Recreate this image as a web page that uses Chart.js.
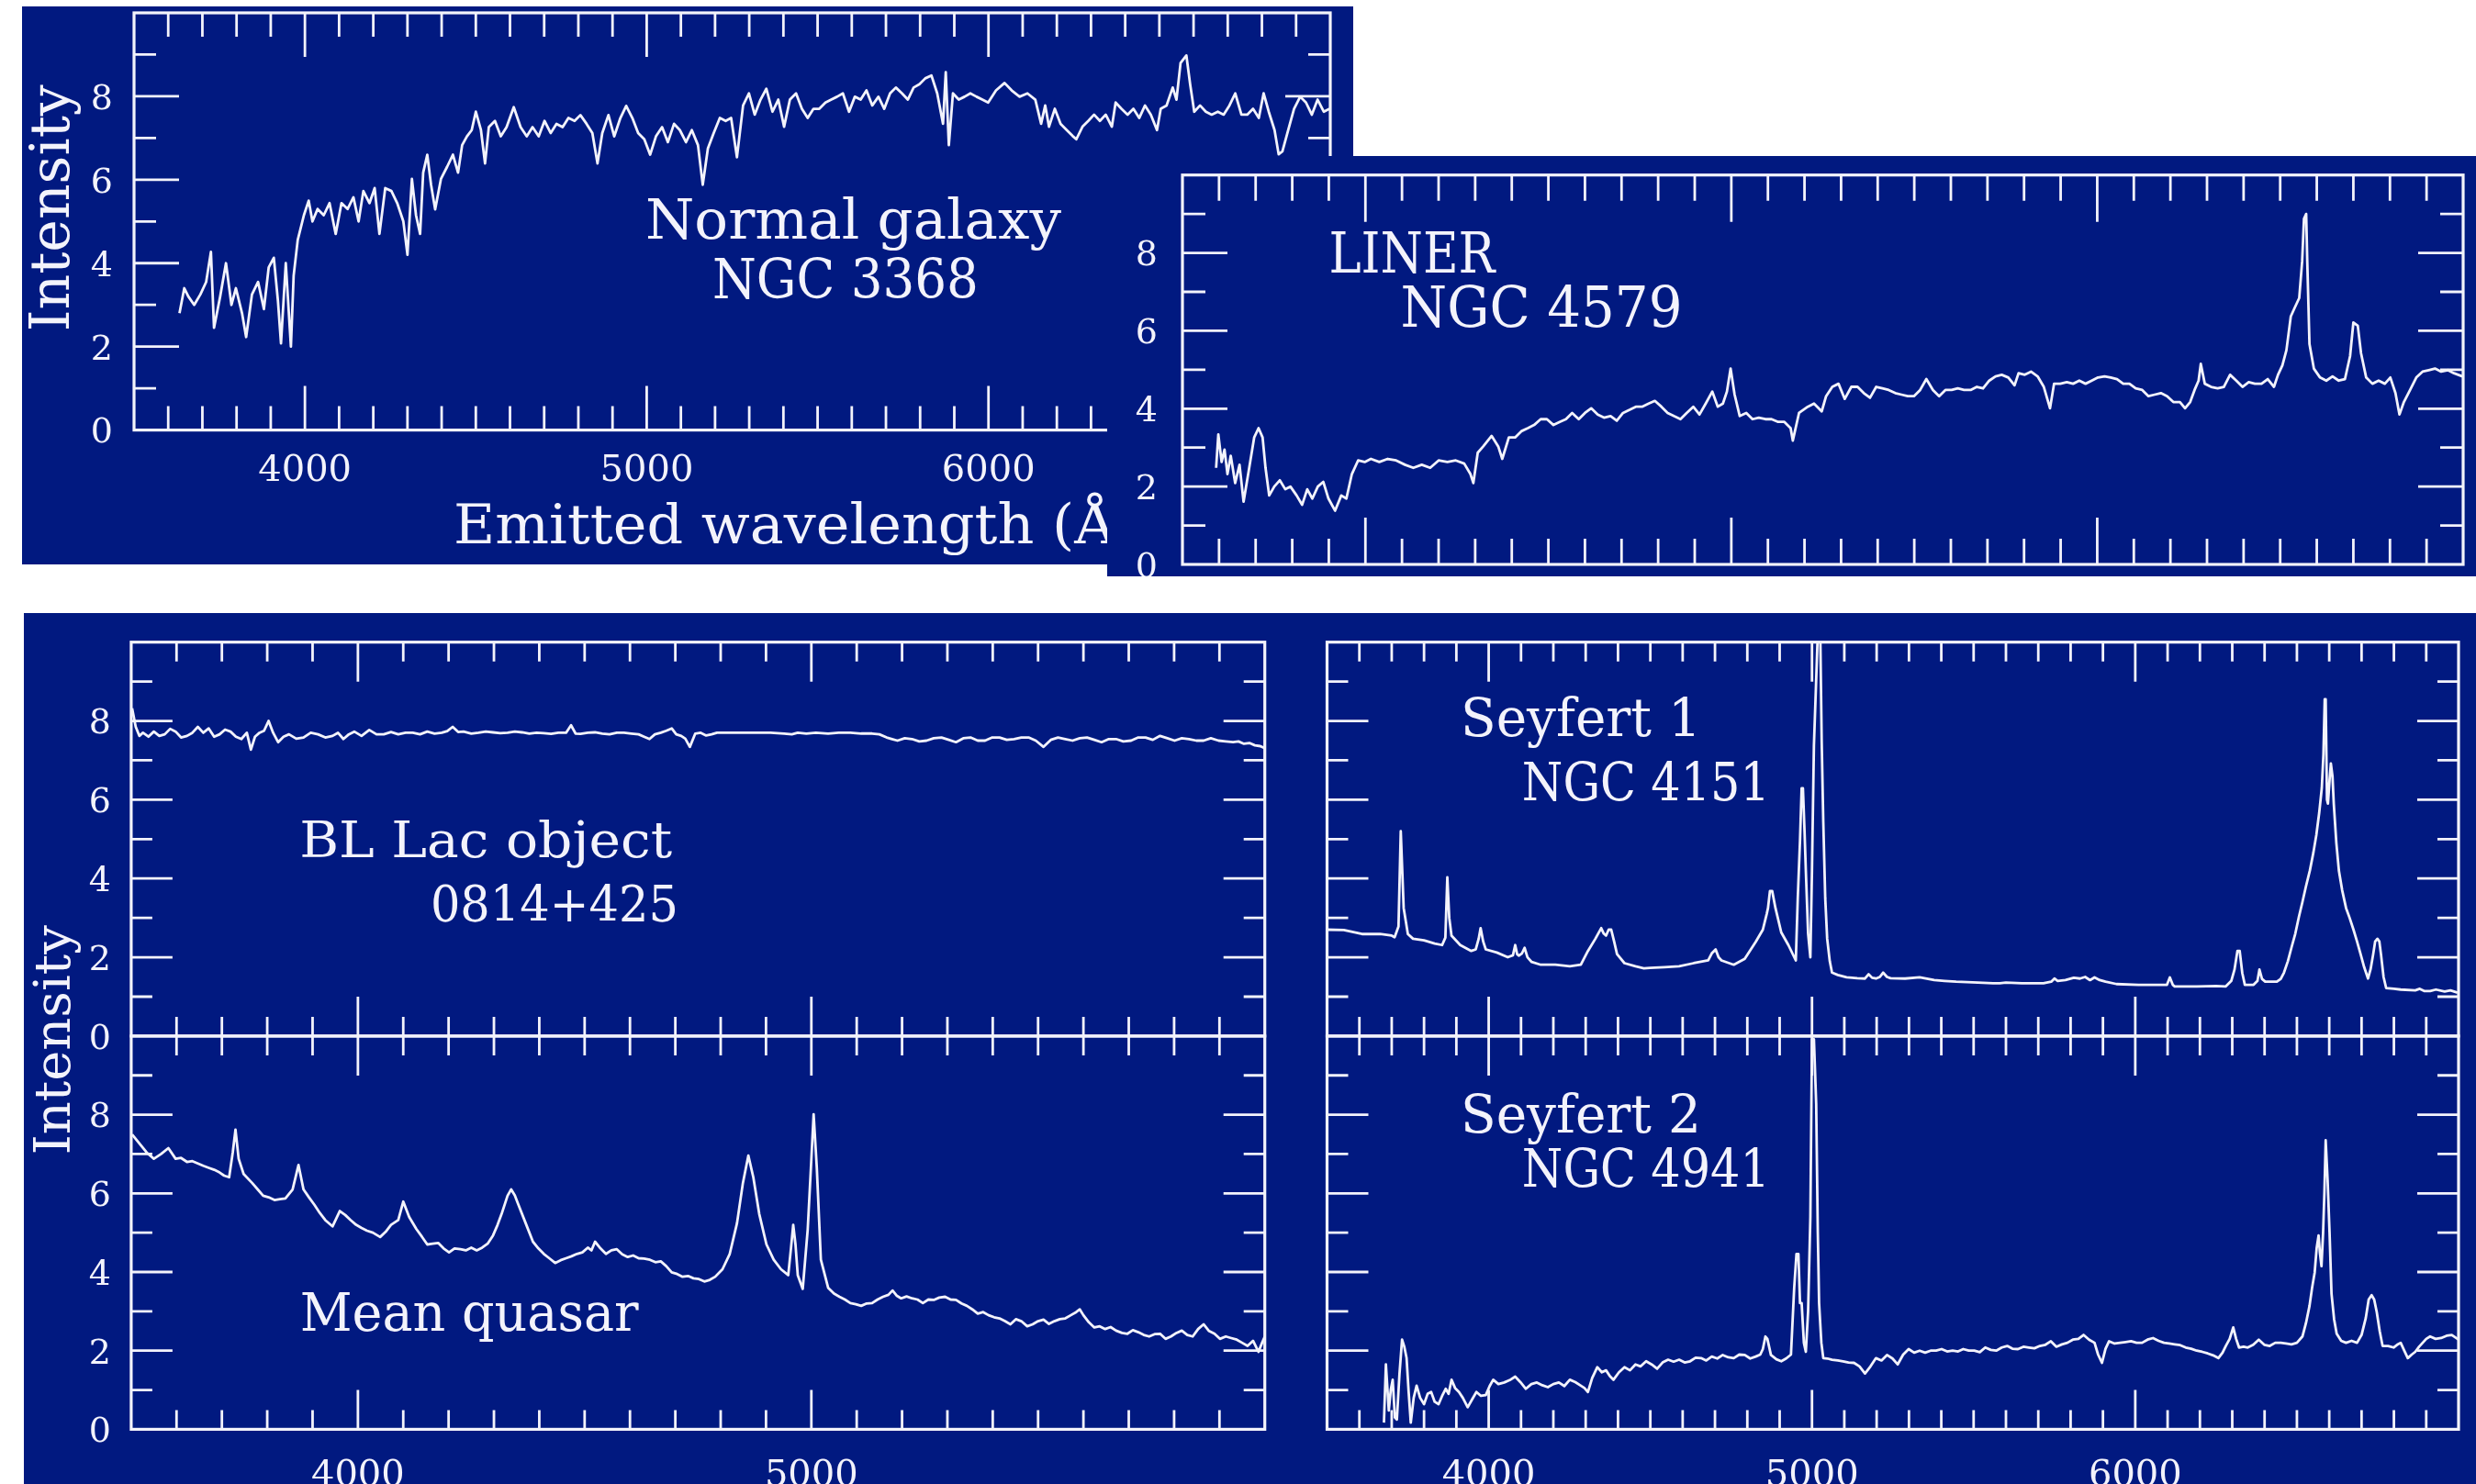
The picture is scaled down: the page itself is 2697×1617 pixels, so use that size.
<!DOCTYPE html>
<html>
<head>
<meta charset="utf-8">
<script src="https://cdn.jsdelivr.net/npm/chart.js@4.4.1/dist/chart.umd.min.js"></script>
<style>
  html, body { margin: 0; padding: 0; background: #ffffff; }
  body { width: 2697px; height: 1617px; position: relative; overflow: hidden; }
  .sheet { position: absolute; background: #011980; overflow: hidden; }
  .sheet canvas { position: absolute; left: 0; top: 0; }
</style>
</head>
<body>
<script>
// ---------------------------------------------------------------------------
// Spectra: emitted wavelength (Angstrom) and relative intensity
// ---------------------------------------------------------------------------
const galaxyWave = [
  3633,3647,3659,3676,3694,3711,3725,3734,3752,3769,
  3785,3798,3816,3828,3845,3863,3880,3894,3909,3921,
  3930,3944,3959,3967,3979,3997,4011,4022,4037,4055,
  4072,4090,4107,4125,4142,4157,4171,4189,4204,4218,
  4235,4253,4270,4288,4300,4313,4325,4337,4346,4358,
  4369,4381,4398,4416,4433,4448,4460,4474,4488,4500,
  4515,4527,4538,4556,4573,4590,4611,4631,4649,4666,
  4684,4701,4719,4736,4754,4771,4789,4806,4824,4841,
  4856,4870,4888,4905,4923,4940,4958,4975,4993,5010,
  5027,5045,5062,5080,5097,5115,5132,5150,5164,5179,
  5196,5214,5231,5247,5264,5282,5299,5316,5333,5350,
  5368,5385,5402,5419,5437,5454,5471,5488,5505,5523,
  5540,5557,5574,5592,5609,5626,5643,5660,5678,5695,
  5712,5729,5747,5764,5781,5798,5815,5833,5850,5867,
  5875,5884,5896,5913,5930,5947,5965,5982,5999,6022,
  6047,6068,6091,6114,6137,6154,6166,6177,6194,6211,
  6229,6246,6257,6275,6292,6309,6326,6343,6361,6372,
  6389,6407,6424,6441,6458,6475,6493,6504,6521,6539,
  6550,6562,6579,6590,6602,6619,6636,6653,6671,6688,
  6705,6722,6740,6757,6774,6791,6805,6820,6837,6849,
  6860,6877,6894,6912,6929,6946,6963,6981,6998
];
const galaxyFlux = [
  2.8,3.4,3.2,3.0,3.25,3.55,4.27,2.45,3.2,4.0,
  3.0,3.4,2.8,2.23,3.25,3.55,2.9,3.9,4.13,3.1,
  2.08,4.0,2.0,3.7,4.56,5.15,5.5,5.0,5.3,5.15,
  5.44,4.7,5.44,5.3,5.58,5.0,5.73,5.44,5.8,4.7,
  5.8,5.73,5.44,5.0,4.2,6.02,5.15,4.7,6.17,6.6,
  5.88,5.29,6.02,6.31,6.6,6.17,6.83,7.04,7.19,7.63,
  7.19,6.39,7.26,7.41,7.04,7.26,7.74,7.26,7.04,7.26,
  7.04,7.41,7.12,7.34,7.26,7.48,7.41,7.55,7.34,7.12,
  6.39,7.12,7.55,7.04,7.48,7.77,7.48,7.12,6.97,6.6,
  7.04,7.26,6.9,7.34,7.19,6.9,7.19,6.83,5.88,6.75,
  7.12,7.48,7.41,7.48,6.54,7.78,8.07,7.56,7.92,8.18,
  7.63,7.92,7.27,7.92,8.07,7.7,7.48,7.7,7.7,7.85,
  7.92,7.99,8.07,7.63,7.99,7.92,8.14,7.78,7.99,7.7,
  8.07,8.21,8.07,7.92,8.21,8.29,8.43,8.5,8.07,7.34,
  8.58,6.83,8.07,7.92,7.99,8.07,7.99,7.92,7.85,8.14,
  8.32,8.14,7.99,8.07,7.92,7.34,7.78,7.27,7.7,7.34,
  7.19,7.05,6.97,7.27,7.41,7.56,7.41,7.56,7.27,7.85,
  7.7,7.56,7.7,7.48,7.78,7.56,7.19,7.7,7.78,8.21,
  7.92,8.8,8.98,8.29,7.63,7.78,7.63,7.56,7.63,7.56,
  7.78,8.07,7.56,7.56,7.7,7.48,8.07,7.63,7.19,6.61,
  6.68,7.19,7.7,7.99,7.85,7.56,7.92,7.63,7.7
];

const linerWave = [
  3592,3598,3607,3615,3623,3632,3644,3656,3667,3681,
  3696,3708,3719,3727,3737,3751,3766,3781,3795,3812,
  3827,3841,3855,3870,3885,3899,3917,3934,3948,3963,
  3980,3998,4015,4038,4061,4084,4108,4131,4154,4177,
  4200,4224,4247,4270,4287,4295,4307,4322,4345,4363,
  4374,4392,4409,4426,4444,4461,4479,4496,4514,4531,
  4548,4565,4583,4600,4617,4635,4652,4670,4687,4704,
  4722,4739,4756,4774,4791,4809,4826,4843,4861,4878,
  4896,4913,4930,4948,4963,4977,4988,4998,5009,5023,
  5041,5058,5075,5093,5110,5128,5145,5162,5168,5185,
  5209,5226,5247,5259,5276,5293,5310,5328,5345,5362,
  5379,5396,5413,5430,5448,5465,5482,5499,5516,5533,
  5551,5568,5585,5602,5619,5636,5654,5671,5688,5705,
  5722,5739,5757,5774,5785,5802,5819,5837,5854,5871,
  5882,5899,5917,5934,5951,5968,5985,6002,6020,6037,
  6054,6071,6088,6105,6123,6140,6157,6174,6191,6208,
  6226,6240,6254,6266,6277,6283,6294,6311,6329,6346,
  6363,6380,6397,6414,6431,6449,6466,6483,6494,6506,
  6517,6529,6540,6552,6560,6565,6571,6574,6580,6592,
  6609,6626,6643,6660,6677,6691,6700,6712,6721,6735,
  6752,6769,6786,6801,6815,6826,6838,6855,6872,6889,
  6906,6923,6940,6958,6975,6998
];
const linerFlux = [
  2.48,3.34,2.63,2.95,2.32,2.79,2.09,2.56,1.61,2.4,
  3.26,3.5,3.26,2.48,1.77,2.0,2.16,1.93,2.0,1.77,
  1.53,1.93,1.69,2.0,2.12,1.69,1.38,1.77,1.69,2.32,
  2.67,2.63,2.71,2.63,2.71,2.67,2.56,2.48,2.56,2.48,
  2.67,2.63,2.67,2.59,2.32,2.09,2.87,3.03,3.3,3.03,
  2.71,3.26,3.26,3.42,3.5,3.58,3.73,3.73,3.58,3.66,
  3.73,3.89,3.73,3.89,4.01,3.85,3.77,3.81,3.69,3.89,
  3.97,4.05,4.05,4.13,4.2,4.05,3.89,3.81,3.73,3.89,
  4.05,3.85,4.13,4.44,4.05,4.13,4.44,5.03,4.36,3.81,
  3.89,3.73,3.77,3.73,3.73,3.66,3.66,3.5,3.18,3.89,
  4.05,4.13,3.93,4.32,4.56,4.64,4.25,4.56,4.56,4.4,
  4.28,4.56,4.52,4.48,4.4,4.36,4.32,4.32,4.48,4.76,
  4.48,4.32,4.48,4.48,4.52,4.48,4.48,4.56,4.52,4.72,
  4.83,4.87,4.8,4.6,4.91,4.87,4.95,4.83,4.56,4.01,
  4.64,4.64,4.68,4.64,4.72,4.64,4.72,4.8,4.83,4.8,
  4.76,4.64,4.64,4.52,4.48,4.32,4.36,4.4,4.32,4.17,
  4.17,4.01,4.17,4.48,4.72,5.15,4.64,4.56,4.52,4.56,
  4.87,4.72,4.56,4.68,4.64,4.64,4.76,4.56,4.87,5.11,
  5.5,6.37,6.6,6.84,7.78,8.88,9.0,7.78,5.66,5.03,
  4.8,4.72,4.83,4.72,4.76,5.35,6.21,6.13,5.42,4.8,
  4.64,4.72,4.64,4.8,4.4,3.85,4.17,4.48,4.8,4.95,
  4.99,5.03,4.95,4.99,4.91,4.83
];

const blLacWave = [
  3502,3510,3518,3526,3538,3550,3562,3574,3586,3598,
  3610,3623,3635,3647,3659,3671,3683,3695,3707,3719,
  3731,3743,3755,3764,3773,3783,3793,3803,3813,3824,
  3836,3848,3864,3880,3896,3912,3928,3944,3956,3968,
  3980,3992,4008,4025,4041,4057,4073,4089,4105,4121,
  4137,4153,4169,4185,4197,4209,4221,4233,4250,4266,
  4282,4298,4314,4330,4346,4362,4378,4394,4410,4426,
  4442,4459,4470,4480,4491,4507,4523,4539,4555,4571,
  4587,4603,4619,4631,4643,4655,4668,4680,4692,4702,
  4713,4722,4732,4744,4756,4768,4780,4792,4804,4820,
  4850,4880,4910,4940,4957,4970,4989,5010,5037,5060,
  5086,5110,5134,5150,5166,5178,5190,5206,5222,5238,
  5254,5270,5287,5303,5319,5335,5351,5367,5383,5399,
  5415,5431,5447,5463,5479,5495,5512,5528,5544,5560,
  5576,5592,5608,5624,5640,5656,5672,5688,5705,5721,
  5737,5753,5769,5785,5801,5817,5833,5849,5865,5881,
  5898,5914,5930,5942,5954,5966,5978,5990,6000
];
const blLacFlux = [
  8.32,7.85,7.62,7.7,7.6,7.73,7.62,7.66,7.8,7.73,
  7.58,7.62,7.7,7.85,7.7,7.81,7.6,7.66,7.78,7.73,
  7.6,7.54,7.7,7.27,7.6,7.7,7.75,8.0,7.7,7.46,
  7.6,7.66,7.55,7.58,7.7,7.66,7.58,7.62,7.7,7.54,
  7.66,7.73,7.62,7.77,7.66,7.66,7.72,7.66,7.7,7.7,
  7.66,7.73,7.68,7.7,7.74,7.85,7.72,7.73,7.68,7.7,
  7.73,7.71,7.69,7.7,7.73,7.71,7.68,7.7,7.69,7.67,
  7.7,7.7,7.89,7.68,7.67,7.7,7.71,7.68,7.66,7.7,
  7.7,7.68,7.66,7.6,7.54,7.66,7.7,7.75,7.81,7.66,
  7.62,7.55,7.34,7.68,7.7,7.63,7.66,7.7,7.7,7.7,
  7.7,7.7,7.7,7.68,7.66,7.7,7.68,7.7,7.68,7.7,
  7.7,7.68,7.68,7.66,7.58,7.54,7.5,7.56,7.54,7.48,
  7.5,7.56,7.58,7.52,7.46,7.56,7.58,7.5,7.5,7.58,
  7.58,7.52,7.54,7.58,7.58,7.5,7.34,7.52,7.58,7.54,
  7.5,7.56,7.58,7.52,7.46,7.54,7.54,7.48,7.5,7.58,
  7.58,7.52,7.62,7.56,7.5,7.56,7.54,7.5,7.5,7.56,
  7.5,7.48,7.46,7.48,7.42,7.44,7.38,7.36,7.31
];

const quasarWave = [
  3502,3518,3534,3550,3566,3582,3598,3610,3623,3635,
  3647,3659,3671,3683,3695,3705,3716,3724,3730,3737,
  3748,3767,3779,3791,3803,3816,3828,3840,3856,3869,
  3880,3892,3904,3916,3928,3944,3960,3972,3984,3996,
  4008,4020,4033,4049,4061,4073,4089,4100,4113,4129,
  4141,4153,4165,4177,4189,4201,4213,4226,4238,4250,
  4262,4274,4286,4298,4308,4317,4330,4338,4346,4354,
  4370,4386,4398,4410,4422,4435,4447,4459,4471,4483,
  4495,4507,4515,4523,4535,4547,4559,4571,4583,4595,
  4607,4619,4631,4644,4656,4668,4680,4692,4704,4716,
  4728,4740,4752,4764,4776,4788,4804,4820,4836,4849,
  4861,4872,4885,4901,4917,4933,4949,4955,4960,4965,
  4970,4981,4992,4999,5005,5012,5021,5037,5050,5062,
  5074,5086,5098,5110,5122,5134,5146,5158,5170,5179,
  5188,5198,5210,5222,5234,5246,5258,5270,5282,5295,
  5307,5319,5331,5343,5355,5367,5379,5391,5403,5415,
  5427,5439,5451,5463,5476,5488,5500,5512,5524,5536,
  5548,5560,5572,5584,5592,5600,5612,5624,5636,5648,
  5660,5672,5685,5697,5709,5721,5733,5745,5757,5769,
  5781,5793,5805,5817,5829,5841,5853,5865,5877,5889,
  5901,5914,5926,5938,5950,5962,5974,5986,5994,6000
];
const quasarFlux = [
  7.5,7.27,7.04,6.88,7.0,7.15,6.88,6.9,6.8,6.82,
  6.76,6.7,6.65,6.6,6.53,6.45,6.41,7.04,7.62,6.88,
  6.49,6.26,6.1,5.94,5.9,5.83,5.85,5.87,6.1,6.72,
  6.1,5.9,5.71,5.5,5.32,5.16,5.55,5.45,5.32,5.2,
  5.12,5.05,5.0,4.89,5.02,5.2,5.32,5.79,5.4,5.09,
  4.9,4.7,4.72,4.74,4.6,4.5,4.6,4.58,4.55,4.62,
  4.55,4.62,4.72,4.93,5.2,5.48,5.94,6.1,5.95,5.71,
  5.24,4.77,4.6,4.46,4.35,4.23,4.3,4.35,4.4,4.46,
  4.5,4.62,4.55,4.77,4.6,4.46,4.55,4.58,4.45,4.38,
  4.42,4.35,4.34,4.31,4.25,4.27,4.15,3.99,3.95,3.88,
  3.9,3.84,3.82,3.76,3.8,3.88,4.07,4.46,5.24,6.26,
  6.96,6.41,5.48,4.7,4.31,4.07,3.92,4.6,5.2,4.7,
  3.92,3.57,5.09,6.65,8.01,6.65,4.31,3.6,3.45,3.37,
  3.3,3.21,3.18,3.14,3.2,3.21,3.3,3.37,3.42,3.53,
  3.4,3.33,3.38,3.33,3.3,3.21,3.3,3.29,3.35,3.37,
  3.3,3.29,3.2,3.14,3.05,2.94,2.98,2.9,2.85,2.82,
  2.75,2.67,2.8,2.75,2.62,2.67,2.75,2.79,2.68,2.75,
  2.8,2.82,2.9,2.98,3.05,2.9,2.72,2.59,2.62,2.55,
  2.6,2.51,2.45,2.43,2.52,2.47,2.4,2.36,2.42,2.43,
  2.3,2.36,2.45,2.51,2.4,2.36,2.55,2.67,2.5,2.43,
  2.3,2.36,2.32,2.28,2.2,2.12,2.25,1.97,2.2,2.36
];

const seyfert1Wave = [
  3500,3552,3608,3664,3700,3709,3721,3728,3737,3750,
  3766,3800,3833,3856,3866,3872,3878,3885,3912,3946,
  3960,3969,3975,3983,3991,4025,4059,4075,4082,4088,
  4093,4103,4111,4120,4133,4161,4206,4251,4285,4307,
  4330,4348,4356,4363,4371,4379,4388,4397,4420,4454,
  4480,4499,4544,4589,4634,4679,4690,4702,4711,4720,
  4758,4792,4826,4848,4860,4864,4870,4877,4887,4905,
  4927,4950,4956,4963,4968,4972,4977,4981,4988,4995,
  5000,5006,5017,5026,5030,5035,5041,5047,5055,5062,
  5080,5107,5140,5164,5175,5186,5198,5210,5220,5232,
  5243,5288,5333,5378,5410,5446,5513,5560,5581,5600,
  5649,5716,5740,5750,5760,5784,5810,5829,5845,5860,
  5874,5890,5908,5942,6010,6077,6098,6107,6116,6122,
  6190,6250,6280,6297,6307,6316,6323,6331,6339,6366,
  6378,6384,6392,6402,6438,6450,6460,6472,6483,6495,
  6506,6517,6528,6540,6551,6560,6569,6577,6582,6586,
  6589,6593,6596,6601,6605,6610,6614,6622,6630,6640,
  6652,6663,6675,6686,6697,6708,6720,6728,6736,6742,
  6749,6755,6760,6768,6776,6800,6821,6866,6880,6895,
  6912,6930,6957,6975,6997
];
const seyfert1Flux = [
  2.7,2.69,2.59,2.59,2.55,2.51,2.78,5.2,3.25,2.59,
  2.47,2.43,2.35,2.31,2.5,4.03,3.0,2.55,2.31,2.16,
  2.2,2.47,2.74,2.4,2.2,2.12,2.0,2.05,2.31,2.08,
  2.04,2.1,2.24,2.0,1.88,1.81,1.81,1.77,1.81,2.16,
  2.47,2.74,2.6,2.55,2.7,2.7,2.4,2.08,1.85,1.77,
  1.72,1.73,1.75,1.77,1.85,1.92,2.1,2.2,2.0,1.92,
  1.81,1.96,2.39,2.7,3.1,3.25,3.68,3.68,3.25,2.63,
  2.31,1.92,3.5,4.97,6.29,6.29,5.2,4.19,2.6,2.0,
  4.2,7.38,10,10,7.5,5.43,3.5,2.47,1.9,1.61,
  1.55,1.49,1.47,1.46,1.57,1.48,1.46,1.5,1.61,1.5,
  1.47,1.46,1.49,1.42,1.4,1.38,1.36,1.34,1.34,1.36,
  1.34,1.34,1.38,1.46,1.4,1.42,1.48,1.46,1.5,1.42,
  1.49,1.42,1.38,1.32,1.3,1.3,1.3,1.49,1.3,1.26,
  1.26,1.27,1.26,1.4,1.69,2.16,2.16,1.6,1.3,1.3,
  1.4,1.69,1.45,1.38,1.38,1.45,1.61,1.9,2.24,2.6,
  3.02,3.4,3.8,4.2,4.66,5.1,5.67,6.3,7.15,8.55,
  8.55,6.0,5.9,6.5,6.92,6.6,5.9,4.9,4.19,3.7,
  3.25,3.0,2.7,2.4,2.08,1.75,1.46,1.7,2.08,2.4,
  2.47,2.4,2.08,1.5,1.22,1.2,1.18,1.16,1.2,1.14,
  1.14,1.18,1.13,1.16,1.1
];

const seyfert2Wave = [
  3676,3682,3691,3697,3703,3710,3716,3724,3732,3739,
  3746,3752,3759,3768,3777,3788,3800,3811,3822,3833,
  3845,3856,3867,3876,3885,3896,3908,3920,3935,3948,
  3962,3976,3991,4003,4014,4030,4048,4065,4082,4098,
  4115,4132,4149,4166,4183,4200,4217,4234,4251,4268,
  4285,4296,4307,4320,4336,4350,4363,4375,4386,4403,
  4420,4437,4454,4470,4487,4504,4521,4538,4555,4572,
  4589,4606,4623,4640,4657,4673,4690,4707,4724,4741,
  4758,4775,4792,4809,4826,4840,4848,4856,4862,4873,
  4890,4905,4920,4935,4945,4952,4958,4963,4968,4975,
  4981,4988,4995,5000,5006,5013,5018,5022,5029,5035,
  5048,5062,5080,5096,5113,5130,5147,5164,5181,5198,
  5215,5232,5249,5265,5282,5299,5316,5333,5350,5367,
  5384,5401,5418,5435,5452,5468,5485,5502,5519,5536,
  5553,5570,5587,5604,5620,5637,5654,5671,5688,5705,
  5722,5739,5756,5773,5790,5807,5824,5840,5857,5874,
  5885,5897,5908,5919,5936,5953,5970,5987,6004,6021,
  6038,6055,6072,6089,6105,6122,6139,6156,6173,6190,
  6207,6224,6241,6257,6270,6280,6292,6303,6312,6321,
  6335,6348,6365,6382,6399,6416,6433,6450,6466,6483,
  6500,6517,6528,6539,6547,6555,6561,6567,6571,6576,
  6581,6585,6589,6591,6595,6601,6607,6615,6623,6637,
  6652,6669,6686,6700,6713,6722,6731,6739,6747,6756,
  6765,6782,6799,6810,6821,6832,6843,6855,6866,6878,
  6889,6900,6912,6929,6946,6963,6979,7000
];
const seyfert2Flux = [
  0.17,1.65,0.48,1.0,1.26,0.3,0.25,1.4,2.28,2.1,
  1.81,1.0,0.17,0.8,1.11,0.8,0.64,0.9,0.95,0.7,
  0.64,0.85,1.03,0.9,1.26,1.05,0.95,0.8,0.56,0.75,
  0.95,0.85,0.87,1.1,1.26,1.15,1.19,1.25,1.34,1.2,
  1.03,1.15,1.19,1.12,1.07,1.15,1.19,1.1,1.26,1.2,
  1.11,1.05,0.95,1.3,1.58,1.45,1.5,1.35,1.26,1.45,
  1.58,1.5,1.65,1.6,1.73,1.65,1.54,1.7,1.77,1.72,
  1.77,1.7,1.73,1.82,1.81,1.75,1.85,1.8,1.89,1.83,
  1.81,1.9,1.89,1.8,1.85,1.9,2.04,2.36,2.3,1.89,
  1.78,1.73,1.8,1.9,3.6,4.46,4.46,3.21,3.21,2.2,
  1.97,3.0,5.4,9.92,9.92,8.28,5.0,3.21,2.2,1.81,
  1.8,1.77,1.75,1.73,1.7,1.69,1.6,1.42,1.6,1.81,
  1.75,1.89,1.8,1.65,1.9,2.04,1.95,2.0,1.95,2.0,
  2.0,2.04,1.98,2.0,1.98,2.04,2.0,2.0,1.96,2.08,
  2.02,2.0,2.08,2.12,2.05,2.04,2.1,2.08,2.06,2.12,
  2.15,2.24,2.1,2.16,2.2,2.28,2.3,2.4,2.28,2.2,
  1.9,1.69,2.05,2.24,2.18,2.2,2.22,2.24,2.2,2.2,
  2.28,2.32,2.25,2.2,2.18,2.16,2.14,2.08,2.05,2.0,
  1.97,1.93,1.88,1.81,1.95,2.12,2.3,2.59,2.3,2.08,
  2.1,2.08,2.15,2.28,2.15,2.12,2.2,2.2,2.18,2.16,
  2.2,2.36,2.7,3.14,3.6,3.99,4.6,4.93,4.5,4.15,
  5.0,6.02,7.35,7.35,6.33,5.0,3.45,2.8,2.43,2.25,
  2.2,2.25,2.2,2.4,2.83,3.3,3.41,3.3,2.98,2.5,
  2.12,2.12,2.08,2.15,2.2,2.0,1.81,1.9,1.97,2.1,
  2.2,2.3,2.36,2.3,2.32,2.38,2.4,2.28
];

// Axis ranges and tick label values
const waveRangeLong  = [3500, 7000];
const waveRangeShort = [3500, 6000];
const intensityRange = [0, 10];
const intensityTickLabels = [0, 2, 4, 6, 8];
const waveTickLabelsLong  = [4000, 5000, 6000];
const waveTickLabelsShort = [4000, 5000];
const waveMinorStep = 100, waveMajorStep = 1000;
const intensityMinorStep = 1, intensityMajorStep = 2;

// ---------------------------------------------------------------------------
// Styling and layout (page pixels)
// ---------------------------------------------------------------------------
const INK = '#f3f3fb';
const SERIF = '"DejaVu Serif", "Liberation Serif", serif';
const CAP = 0.729;           // cap height of DejaVu Serif, in em
const FRAME_WIDTH = 3.2;
const TICK_WIDTH = 2.8;
const LINE_WIDTH = 2.8;

const sheets = {
  top:    { x: 24,   y: 7,   w: 1450, h: 608, z: 1 },
  liner:  { x: 1206, y: 170, w: 1491, h: 458, z: 2 },
  bottom: { x: 26,   y: 668, w: 2671, h: 949, z: 1 }
};

const tickLong  = { xMinor: 26, xMajor: 48, yMinor: 24, yMajor: 49 };
const tickLiner = { xMinor: 28, xMajor: 51, yMinor: 25, yMajor: 49 };
const tickSmall = { xMinor: 21, xMajor: 43, yMinor: 23, yMajor: 45 };

const panels = [
  {
    canvas: 'galaxy', sheet: 'top', frame: { l: 146, t: 14, r: 1449, b: 468.6 },
    wave: galaxyWave, flux: galaxyFlux, xr: waveRangeLong, tick: tickLong,
    yLabels: intensityTickLabels, yLabelGap: 23, yLabelSize: 38,
    xLabels: waveTickLabelsLong, xLabelGap: 26, xLabelSize: 40,
    notes: [
      { text: 'Normal galaxy', x: 4996, y: 4.59, size: 60, width: 453 },
      { text: 'NGC 3368', x: 5192, y: 3.16, size: 60, width: 290 },
      { text: 'Emitted wavelength (Å)', x: 4435, y: -2.72, size: 60, width: 745 },
      { text: 'Intensity', x: 3309, y: 5.32, size: 59, width: 269, rotate: true }
    ]
  },
  {
    canvas: 'liner', sheet: 'liner', frame: { l: 1288, t: 190.7, r: 2683, b: 615 },
    wave: linerWave, flux: linerFlux, xr: waveRangeLong, tick: tickLiner,
    yLabels: intensityTickLabels, yLabelGap: 27, yLabelSize: 38,
    xLabels: [], xLabelGap: 0, xLabelSize: 40,
    notes: [
      { text: 'LINER', x: 3900, y: 7.49, size: 62, width: 181 },
      { text: 'NGC 4579', x: 4096, y: 6.11, size: 62, width: 307 }
    ]
  },
  {
    canvas: 'bllac', sheet: 'bottom', frame: { l: 142.9, t: 699.7, r: 1377.7, b: 1128.9 },
    wave: blLacWave, flux: blLacFlux, xr: waveRangeShort, tick: tickSmall,
    yLabels: intensityTickLabels, yLabelGap: 22, yLabelSize: 38,
    xLabels: [], xLabelGap: 0, xLabelSize: 40,
    notes: [
      { text: 'BL Lac object', x: 3871, y: 4.54, size: 55, width: 406 },
      { text: '0814+425', x: 4160, y: 2.9, size: 55, width: 270 },
      { text: 'Intensity', x: 3365, y: -0.1, size: 55, width: 250, rotate: true }
    ]
  },
  {
    canvas: 'quasar', sheet: 'bottom', frame: { l: 142.9, t: 1128.9, r: 1377.7, b: 1557.4 },
    wave: quasarWave, flux: quasarFlux, xr: waveRangeShort, tick: tickSmall,
    yLabels: intensityTickLabels, yLabelGap: 22, yLabelSize: 38,
    xLabels: waveTickLabelsShort, xLabelGap: 32, xLabelSize: 40,
    notes: [
      { text: 'Mean quasar', x: 3872, y: 2.51, size: 58, width: 369 }
    ]
  },
  {
    canvas: 'seyfert1', sheet: 'bottom', frame: { l: 1445.5, t: 699.7, r: 2678, b: 1128.9 },
    wave: seyfert1Wave, flux: seyfert1Flux, xr: waveRangeLong, tick: tickSmall,
    yLabels: [], yLabelGap: 0, yLabelSize: 38,
    xLabels: [], xLabelGap: 0, xLabelSize: 40,
    notes: [
      { text: 'Seyfert 1', x: 3913, y: 7.62, size: 57, width: 262 },
      { text: 'NGC 4151', x: 4103, y: 5.99, size: 58, width: 270 }
    ]
  },
  {
    canvas: 'seyfert2', sheet: 'bottom', frame: { l: 1445.5, t: 1128.9, r: 2678, b: 1557.4 },
    wave: seyfert2Wave, flux: seyfert2Flux, xr: waveRangeLong, tick: tickSmall,
    yLabels: [], yLabelGap: 0, yLabelSize: 38,
    xLabels: waveTickLabelsLong, xLabelGap: 32, xLabelSize: 40,
    notes: [
      { text: 'Seyfert 2', x: 3913, y: 7.54, size: 57, width: 262 },
      { text: 'NGC 4941', x: 4103, y: 6.18, size: 58, width: 270 }
    ]
  }
];

// ---------------------------------------------------------------------------
// Drawing helpers
// ---------------------------------------------------------------------------
function drawNote(ctx, note, px, py) {
  ctx.save();
  ctx.font = note.size + 'px ' + SERIF;
  const natural = ctx.measureText(note.text).width;
  const stretch = note.width ? note.width / natural : 1;
  ctx.translate(px, py);
  if (note.rotate) {
    ctx.rotate(-Math.PI / 2);
    ctx.textAlign = 'center';
  } else {
    ctx.textAlign = 'left';
  }
  ctx.scale(stretch, 1);
  ctx.textBaseline = 'alphabetic';
  ctx.fillText(note.text, 0, 0);
  ctx.restore();
}

// Frame, mirrored inward ticks, tick labels and captions of one panel
function frameDecor(spec) {
  return {
    id: 'frameDecor',
    afterDatasetsDraw(chart) {
      const ctx = chart.ctx;
      const a = chart.chartArea;
      const sx = chart.scales.x, sy = chart.scales.y;
      ctx.save();
      ctx.strokeStyle = INK;
      ctx.fillStyle = INK;
      ctx.lineCap = 'butt';

      ctx.lineWidth = TICK_WIDTH;
      ctx.beginPath();
      for (let w = sx.min + waveMinorStep; w < sx.max; w += waveMinorStep) {
        const px = sx.getPixelForValue(w);
        const len = (w % waveMajorStep === 0) ? spec.tick.xMajor : spec.tick.xMinor;
        ctx.moveTo(px, a.bottom); ctx.lineTo(px, a.bottom - len);
        ctx.moveTo(px, a.top);    ctx.lineTo(px, a.top + len);
      }
      for (let v = sy.min + intensityMinorStep; v < sy.max; v += intensityMinorStep) {
        const py = sy.getPixelForValue(v);
        const len = (v % intensityMajorStep === 0) ? spec.tick.yMajor : spec.tick.yMinor;
        ctx.moveTo(a.left, py);  ctx.lineTo(a.left + len, py);
        ctx.moveTo(a.right, py); ctx.lineTo(a.right - len, py);
      }
      ctx.stroke();

      ctx.lineWidth = FRAME_WIDTH;
      ctx.strokeRect(a.left, a.top, a.right - a.left, a.bottom - a.top);

      ctx.textBaseline = 'alphabetic';
      ctx.font = spec.yLabelSize + 'px ' + SERIF;
      ctx.textAlign = 'right';
      for (const v of spec.yLabels) {
        const py = sy.getPixelForValue(v);
        ctx.fillText(String(v), a.left - spec.yLabelGap, py + CAP * spec.yLabelSize / 2);
      }
      ctx.font = spec.xLabelSize + 'px ' + SERIF;
      ctx.textAlign = 'center';
      for (const w of spec.xLabels) {
        const px = sx.getPixelForValue(w);
        ctx.fillText(String(w), px, a.bottom + spec.xLabelGap + CAP * spec.xLabelSize);
      }

      for (const note of spec.notes) {
        drawNote(ctx, note, sx.getPixelForValue(note.x), sy.getPixelForValue(note.y));
      }
      ctx.restore();
    }
  };
}

// ---------------------------------------------------------------------------
// Build sheets and charts
// ---------------------------------------------------------------------------
const sheetEls = {};
for (const [name, s] of Object.entries(sheets)) {
  const div = document.createElement('div');
  div.className = 'sheet';
  div.style.left = s.x + 'px';
  div.style.top = s.y + 'px';
  div.style.width = s.w + 'px';
  div.style.height = s.h + 'px';
  div.style.zIndex = s.z;
  document.body.appendChild(div);
  sheetEls[name] = div;
}

for (const spec of panels) {
  const s = sheets[spec.sheet];
  const canvas = document.createElement('canvas');
  canvas.id = spec.canvas;
  canvas.width = s.w;
  canvas.height = s.h;
  canvas.style.width = s.w + 'px';
  canvas.style.height = s.h + 'px';
  sheetEls[spec.sheet].appendChild(canvas);

  const padding = {
    left: spec.frame.l - s.x,
    top: spec.frame.t - s.y,
    right: s.x + s.w - spec.frame.r,
    bottom: s.y + s.h - spec.frame.b
  };
  const n = Math.min(spec.wave.length, spec.flux.length);
  const points = [];
  for (let i = 0; i < n; i++) points.push({ x: spec.wave[i], y: spec.flux[i] });

  new Chart(canvas, {
    type: 'line',
    data: {
      datasets: [{
        data: points,
        borderColor: INK,
        borderWidth: LINE_WIDTH,
        borderJoinStyle: 'round',
        pointRadius: 0,
        tension: 0,
        fill: false
      }]
    },
    options: {
      responsive: false,
      maintainAspectRatio: false,
      animation: false,
      devicePixelRatio: 1,
      events: [],
      layout: { padding },
      scales: {
        x: { type: 'linear', min: spec.xr[0], max: spec.xr[1], display: false },
        y: { type: 'linear', min: intensityRange[0], max: intensityRange[1], display: false }
      },
      plugins: { legend: { display: false }, tooltip: { enabled: false }, title: { display: false } }
    },
    plugins: [frameDecor(spec)]
  });
}
</script>
</body>
</html>
